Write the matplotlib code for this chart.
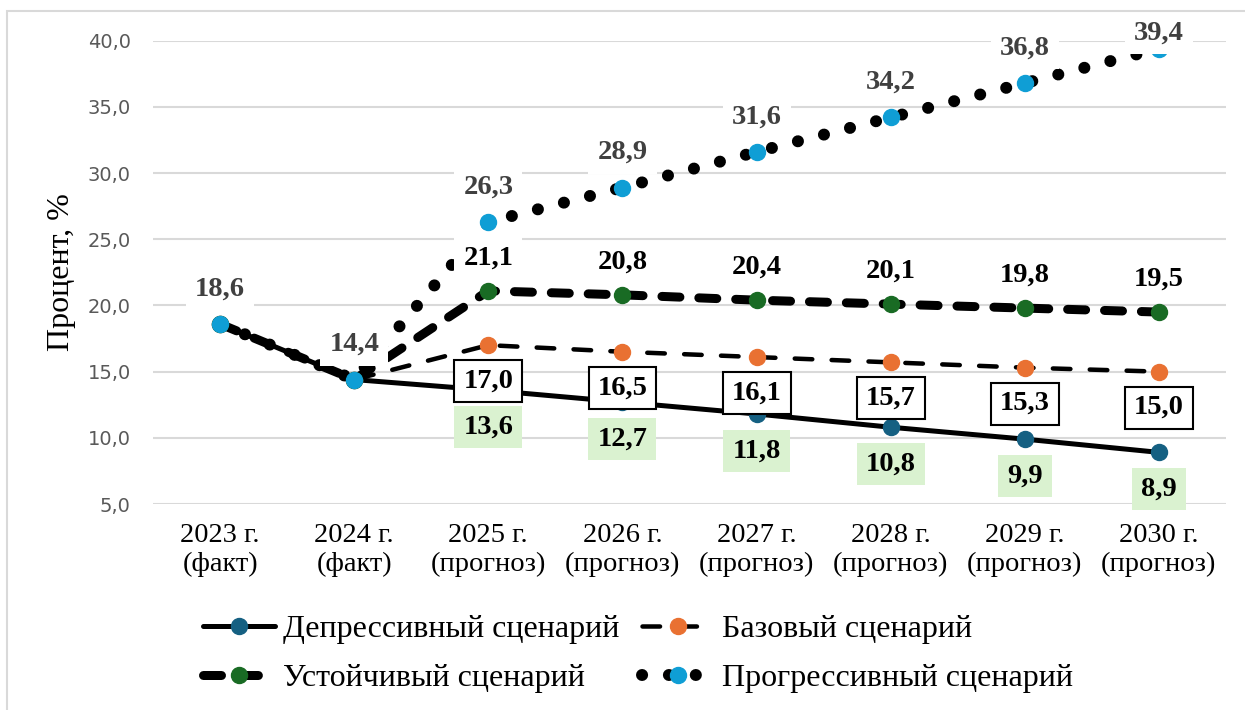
import matplotlib
matplotlib.use("Agg")
import matplotlib.pyplot as plt
from matplotlib.patches import Rectangle
from matplotlib.path import Path

# ---- data -------------------------------------------------------------
years = ["2023 г.\n(факт)", "2024 г.\n(факт)", "2025 г.\n(прогноз)", "2026 г.\n(прогноз)",
         "2027 г.\n(прогноз)", "2028 г.\n(прогноз)", "2029 г.\n(прогноз)", "2030 г.\n(прогноз)"]
depressive = [18.6, 14.4, 13.6, 12.7, 11.8, 10.8, 9.9, 8.9]
base = [18.6, 14.4, 17.0, 16.5, 16.1, 15.7, 15.3, 15.0]
steady = [18.6, 14.4, 21.1, 20.8, 20.4, 20.1, 19.8, 19.5]
progressive = [18.6, 14.4, 26.3, 28.9, 31.6, 34.2, 36.8, 39.4]
series_names = ["Депрессивный сценарий", "Базовый сценарий",
                "Устойчивый сценарий", "Прогрессивный сценарий"]
y_ticks = [5.0, 10.0, 15.0, 20.0, 25.0, 30.0, 35.0, 40.0]
y_title = "Процент, %"

# ---- style ------------------------------------------------------------
W, H, DPI = 1245, 710, 100
PX = 72 / DPI                     # points per pixel
SERIF = "Liberation Serif"
FS = 20.5                         # tick and data label size
FS_BIG = 23                       # axis title and legend size

C_DEP = "#156082"
C_BASE = "#E97132"
C_STEADY = "#196B24"
C_PROG = "#0F9ED5"


def fmt(v):
    return f"{v:.1f}".replace(".", ",")


class LabelBox:
    """Rectangle around a data label: fixed height, fixed side padding (pixels)."""

    def __init__(self, padx=9, box_h=42):
        self.padx = padx
        self.box_h = box_h

    def __call__(self, x0, y0, width, height, mutation_size):
        cy = y0 + height / 2
        x1 = x0 - self.padx
        x2 = x0 + width + self.padx
        y1 = cy - self.box_h / 2
        y2 = cy + self.box_h / 2
        return Path([(x1, y1), (x2, y1), (x2, y2), (x1, y2), (x1, y1)], closed=True)


fig = plt.figure(figsize=(W / DPI, H / DPI), dpi=DPI)
fig.patch.set_facecolor("white")

# light outer frame of the chart area
fig.patches.append(Rectangle((7 / W, -0.1), 1.2, 1 - 11 / H + 0.1, transform=fig.transFigure,
                             fill=False, edgecolor="#d9d9d9", linewidth=1.5))

left, right, top, bottom = 153, 1226, 40.7, 504
ax = fig.add_axes([left / W, 1 - bottom / H, (right - left) / W, (bottom - top) / H])

x = list(range(len(years)))
ms = 16 * PX

h_dep, = ax.plot(x, depressive, color="black", lw=5 * PX, solid_capstyle="round",
                 marker="o", ms=ms, mfc=C_DEP, mec=C_DEP, zorder=3, label=series_names[0])
h_base, = ax.plot(x, base, color="black", lw=4.5 * PX, ls=(0, (3.9, 4.3)), dash_capstyle="round",
                  marker="o", ms=ms, mfc=C_BASE, mec=C_BASE, zorder=3, label=series_names[1])
h_steady, = ax.plot(x, steady, color="black", lw=9 * PX, ls=(0, (2.0, 2.1)), dash_capstyle="round",
                    marker="o", ms=ms, mfc=C_STEADY, mec=C_STEADY, zorder=3, label=series_names[2])
h_prog, = ax.plot(x, progressive, color="black", lw=12 * PX, ls=(0, (0.01, 2.23)),
                  dash_capstyle="round", marker="o", ms=ms, mfc=C_PROG, mec=C_PROG,
                  zorder=3, label=series_names[3])

ax.set_xlim(-0.5, len(years) - 0.5)
ax.set_ylim(5, 40)
ax.set_yticks(y_ticks)
ax.set_yticklabels([fmt(v) for v in y_ticks], fontfamily="DejaVu Sans",
                   fontsize=14, color="#595959")
ax.set_xticks(x)
ax.set_xticklabels(years, fontfamily=SERIF, fontsize=FS, linespacing=1.2)
ax.tick_params(axis="y", length=0, pad=16)
ax.tick_params(axis="x", length=0, pad=14)
ax.grid(axis="y", color="#d9d9d9", lw=1.5)
ax.set_axisbelow(True)
for s in ax.spines.values():
    s.set_visible(False)

fig.text(62 / W, 1 - 272 / H, y_title, rotation=90, ha="center", va="center",
         fontfamily=SERIF, fontsize=FS_BIG)

label_kw = dict(textcoords="offset points", ha="center", va="center",
                fontfamily=SERIF, fontsize=FS, fontweight="bold", zorder=6,
                annotation_clip=False)

# progressive labels (above, kept inside the chart frame)
for xi, v in zip(x, progressive):
    py = ax.transData.transform((xi, v))[1]
    target = min(py + 35, H - 33)
    ax.annotate(fmt(v), (xi, v), xytext=(0, (target - py) * PX), color="#404040",
                bbox=dict(boxstyle=LabelBox(), fc="white", ec="none"), **label_kw)

# forecast labels of the other scenarios
for xi in x[2:]:
    ax.annotate(fmt(steady[xi]), (xi, steady[xi]), xytext=(0, 33 * PX), color="black",
                bbox=dict(boxstyle=LabelBox(), fc="white", ec="none"), **label_kw)
    ax.annotate(fmt(base[xi]), (xi, base[xi]), xytext=(0, -36 * PX), color="black",
                bbox=dict(boxstyle=LabelBox(), fc="white", ec="black", lw=1.5), **label_kw)
    ax.annotate(fmt(depressive[xi]), (xi, depressive[xi]), xytext=(0, -37 * PX), color="black",
                bbox=dict(boxstyle=LabelBox(), fc="#DAF2D0", ec="none"), **label_kw)

fs_px = FS_BIG / PX
fig.legend([h_dep, h_steady, h_base, h_prog],
           [series_names[0], series_names[2], series_names[1], series_names[3]],
           loc="center", bbox_to_anchor=(638 / W, 1 - 654 / H), ncol=2, frameon=False,
           prop=dict(family=SERIF, size=FS_BIG), handlelength=72 / fs_px,
           handletextpad=8 / fs_px, columnspacing=23 / fs_px,
           labelspacing=0.62, borderpad=0, borderaxespad=0)

fig.savefig("out.png", dpi=DPI)
